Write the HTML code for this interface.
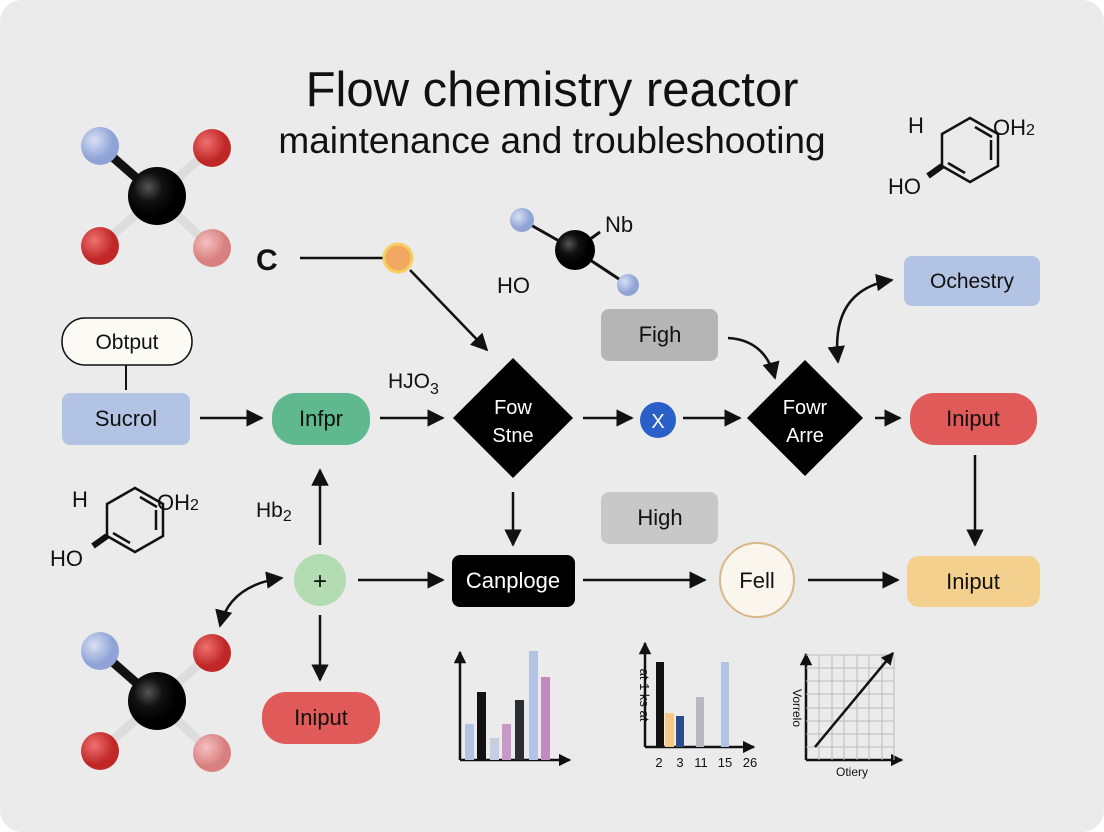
<!DOCTYPE html>
<html><head><style>
html,body{margin:0;padding:0;background:#fff;}
svg{display:block;font-family:"Liberation Sans",sans-serif;}
</style></head><body>
<svg width="1104" height="832" viewBox="0 0 1104 832">
<defs>
<marker id="a" viewBox="0 0 10 10" refX="9" refY="5" markerWidth="7" markerHeight="7" orient="auto-start-reverse"><path d="M0,0L10,5L0,10z" fill="#111"/></marker>
<marker id="s" viewBox="0 0 10 10" refX="9" refY="5" markerWidth="5" markerHeight="5" orient="auto-start-reverse"><path d="M0,0L10,5L0,10z" fill="#111"/></marker>
<radialGradient id="gk" cx="35%" cy="35%"><stop offset="0" stop-color="#555"/><stop offset="0.5" stop-color="#111"/><stop offset="1" stop-color="#000"/></radialGradient>
<radialGradient id="gb" cx="35%" cy="35%"><stop offset="0" stop-color="#d8e0f5"/><stop offset="1" stop-color="#8fa3d6"/></radialGradient>
<radialGradient id="gr" cx="35%" cy="35%"><stop offset="0" stop-color="#f07070"/><stop offset="1" stop-color="#c02828"/></radialGradient>
<radialGradient id="gp" cx="35%" cy="35%"><stop offset="0" stop-color="#f5c0c0"/><stop offset="1" stop-color="#d88080"/></radialGradient>
<g id="mol">
<line x1="-57" y1="-50" x2="0" y2="0" stroke="#111" stroke-width="9"/>
<line x1="55" y1="-48" x2="0" y2="0" stroke="#ddd" stroke-width="9"/>
<line x1="-57" y1="50" x2="0" y2="0" stroke="#ddd" stroke-width="9"/>
<line x1="55" y1="52" x2="0" y2="0" stroke="#ddd" stroke-width="9"/>
<circle cx="-57" cy="-50" r="19" fill="url(#gb)"/>
<circle cx="55" cy="-48" r="19" fill="url(#gr)"/>
<circle cx="-57" cy="50" r="19" fill="url(#gr)"/>
<circle cx="55" cy="52" r="19" fill="url(#gp)"/>
<circle cx="0" cy="0" r="29" fill="url(#gk)"/>
</g>
<g id="ben" fill="none" stroke="#111" stroke-width="2.5">
<polygon points="0,-32 28,-16 28,16 0,32 -28,16 -28,-16"/>
<line x1="5" y1="-23" x2="22" y2="-13"/><line x1="21" y1="-10" x2="21" y2="10"/><line x1="-22" y1="13" x2="-5" y2="23"/>
<line x1="-28" y1="16" x2="-42" y2="26" stroke-width="6"/>
</g>
</defs>
<rect x="0" y="0" width="1104" height="832" rx="22" fill="#ebebeb"/>
<text x="552" y="106" font-size="49" text-anchor="middle" fill="#111">Flow chemistry reactor</text>
<text x="552" y="153" font-size="37" text-anchor="middle" fill="#111">maintenance and troubleshooting</text>

<use href="#mol" x="157" y="196"/>
<use href="#mol" x="157" y="701"/>

<line x1="522" y1="220" x2="575" y2="250" stroke="#111" stroke-width="3"/>
<line x1="628" y1="285" x2="575" y2="250" stroke="#111" stroke-width="3"/>
<line x1="575" y1="250" x2="600" y2="232" stroke="#111" stroke-width="3"/>
<circle cx="522" cy="220" r="12" fill="url(#gb)"/>
<circle cx="628" cy="285" r="11" fill="url(#gb)"/>
<circle cx="575" cy="250" r="20" fill="url(#gk)"/>
<text x="605" y="232" font-size="22" fill="#111">Nb</text>
<text x="497" y="293" font-size="22" fill="#111">HO</text>

<use href="#ben" x="970" y="150"/>
<text x="908" y="133" font-size="22" fill="#111">H</text>
<text x="993" y="135" font-size="22" fill="#111">OH<tspan font-size="16">2</tspan></text>
<text x="888" y="194" font-size="22" fill="#111">HO</text>
<use href="#ben" x="135" y="520"/>
<text x="72" y="507" font-size="22" fill="#111">H</text>
<text x="157" y="510" font-size="22" fill="#111">OH<tspan font-size="16">2</tspan></text>
<text x="50" y="566" font-size="22" fill="#111">HO</text>

<text x="256" y="270" font-size="30" font-weight="bold" fill="#111">C</text>
<line x1="300" y1="258" x2="385" y2="258" stroke="#111" stroke-width="2.5"/>
<circle cx="398" cy="258" r="14" fill="#f2a860" stroke="#f5d060" stroke-width="3"/>
<line x1="410" y1="270" x2="487" y2="350" stroke="#111" stroke-width="2.5" marker-end="url(#a)"/>

<rect x="62" y="318" width="130" height="47" rx="23" fill="#fbfaf5" stroke="#111" stroke-width="1.5"/>
<text x="127" y="349" font-size="21" text-anchor="middle" fill="#111">Obtput</text>
<line x1="126" y1="365" x2="126" y2="390" stroke="#111" stroke-width="2"/>
<rect x="62" y="393" width="128" height="52" rx="8" fill="#b3c3e3"/>
<text x="126" y="426" font-size="22" text-anchor="middle" fill="#111">Sucrol</text>
<rect x="272" y="393" width="98" height="52" rx="24" fill="#5fb88e"/>
<text x="321" y="426" font-size="22" text-anchor="middle" fill="#111">Infpr</text>
<polygon points="513,358 573,418 513,478 453,418" fill="#000"/>
<text x="513" y="414" font-size="20" text-anchor="middle" fill="#fff">Fow</text>
<text x="513" y="442" font-size="20" text-anchor="middle" fill="#fff">Stne</text>
<circle cx="658" cy="420" r="18" fill="#2a5fc8"/>
<text x="658" y="428" font-size="20" text-anchor="middle" fill="#fff">X</text>
<polygon points="805,360 863,418 805,476 747,418" fill="#000"/>
<text x="805" y="414" font-size="20" text-anchor="middle" fill="#fff">Fowr</text>
<text x="805" y="442" font-size="20" text-anchor="middle" fill="#fff">Arre</text>
<rect x="910" y="393" width="127" height="52" rx="24" fill="#e05a5a"/>
<text x="973" y="426" font-size="22" text-anchor="middle" fill="#111">Iniput</text>
<rect x="601" y="309" width="117" height="52" rx="8" fill="#b5b5b5"/>
<text x="660" y="342" font-size="22" text-anchor="middle" fill="#111">Figh</text>
<rect x="601" y="492" width="117" height="52" rx="8" fill="#c8c8c8"/>
<text x="660" y="525" font-size="22" text-anchor="middle" fill="#111">High</text>
<rect x="904" y="256" width="136" height="50" rx="8" fill="#b3c3e3"/>
<text x="972" y="288" font-size="21" text-anchor="middle" fill="#111">Ochestry</text>
<rect x="452" y="555" width="123" height="52" rx="8" fill="#000"/>
<text x="513" y="588" font-size="22" text-anchor="middle" fill="#fff">Canploge</text>
<circle cx="757" cy="580" r="37" fill="#faf6ee" stroke="#d8b88a" stroke-width="2"/>
<text x="757" y="588" font-size="22" text-anchor="middle" fill="#111">Fell</text>
<rect x="907" y="556" width="133" height="51" rx="12" fill="#f3d08e"/>
<text x="973" y="589" font-size="22" text-anchor="middle" fill="#111">Iniput</text>
<circle cx="320" cy="580" r="26" fill="#b3dcb3"/>
<text x="320" y="589" font-size="24" text-anchor="middle" fill="#111">+</text>
<rect x="262" y="692" width="118" height="52" rx="24" fill="#e05a5a"/>
<text x="321" y="725" font-size="22" text-anchor="middle" fill="#111">Iniput</text>
<text x="388" y="388" font-size="21" fill="#111">HJO<tspan font-size="16" dy="6">3</tspan></text>
<text x="256" y="517" font-size="21" fill="#111">Hb<tspan font-size="16" dy="4">2</tspan></text>

<g stroke="#111" stroke-width="2.5" fill="none">
<line x1="200" y1="418" x2="262" y2="418" marker-end="url(#a)"/>
<line x1="380" y1="418" x2="443" y2="418" marker-end="url(#a)"/>
<line x1="583" y1="418" x2="632" y2="418" marker-end="url(#a)"/>
<line x1="683" y1="418" x2="740" y2="418" marker-end="url(#a)"/>
<line x1="875" y1="418" x2="900" y2="418" marker-end="url(#a)"/>
<line x1="975" y1="455" x2="975" y2="545" marker-end="url(#a)"/>
<line x1="513" y1="492" x2="513" y2="545" marker-end="url(#a)"/>
<line x1="320" y1="545" x2="320" y2="470" marker-end="url(#a)"/>
<line x1="320" y1="615" x2="320" y2="680" marker-end="url(#a)"/>
<line x1="358" y1="580" x2="443" y2="580" marker-end="url(#a)"/>
<line x1="583" y1="580" x2="705" y2="580" marker-end="url(#a)"/>
<line x1="808" y1="580" x2="898" y2="580" marker-end="url(#a)"/>
<path d="M728,338 Q765,340 775,378" marker-end="url(#a)"/>
<path d="M838,362 Q830,290 892,280" marker-start="url(#a)" marker-end="url(#a)"/>
<path d="M220,626 Q230,585 282,578" marker-start="url(#a)" marker-end="url(#a)"/>
</g>

<g fill="none" stroke="#111" stroke-width="2.5">
<line x1="460" y1="760" x2="460" y2="652" marker-end="url(#s)"/>
<line x1="460" y1="760" x2="570" y2="760" marker-end="url(#s)"/>
<line x1="645" y1="747" x2="645" y2="643" marker-end="url(#s)"/>
<line x1="645" y1="747" x2="754" y2="747" marker-end="url(#s)"/>
<line x1="806" y1="760" x2="806" y2="654" marker-end="url(#s)"/>
<line x1="806" y1="760" x2="902" y2="760" marker-end="url(#s)"/>
</g>
<rect x="465" y="724" width="9" height="36" fill="#b3c3e3"/>
<rect x="477" y="692" width="9" height="68" fill="#111"/>
<rect x="490" y="738" width="9" height="22" fill="#c8cde0"/>
<rect x="502" y="724" width="9" height="36" fill="#c898c8"/>
<rect x="515" y="700" width="9" height="60" fill="#2a2e33"/>
<rect x="529" y="651" width="9" height="109" fill="#b3c3e3"/>
<rect x="541" y="677" width="9" height="83" fill="#c08cc0"/>
<rect x="656" y="662" width="8" height="85" fill="#111"/>
<rect x="665" y="713" width="9" height="34" fill="#f3c888"/>
<rect x="676" y="716" width="8" height="31" fill="#2a4a8a"/>
<rect x="696" y="697" width="8" height="50" fill="#b8b8c0"/>
<rect x="721" y="662" width="8" height="85" fill="#b3c3e3"/>
<g font-size="13" fill="#111" text-anchor="middle">
<text x="659" y="767">2</text><text x="680" y="767">3</text><text x="701" y="767">11</text><text x="725" y="767">15</text><text x="750" y="767">26</text>
<text transform="translate(640,695) rotate(90)">at 1 ks at</text>
<text x="852" y="776" font-size="12">Otiery</text>
<text transform="translate(793,708) rotate(90)" font-size="12">Vorrelo</text>
</g>
<g stroke="#bbb" stroke-width="1">
<line x1="819" y1="655" x2="819" y2="760"/><line x1="832" y1="655" x2="832" y2="760"/><line x1="844" y1="655" x2="844" y2="760"/><line x1="857" y1="655" x2="857" y2="760"/><line x1="869" y1="655" x2="869" y2="760"/><line x1="882" y1="655" x2="882" y2="760"/><line x1="894" y1="655" x2="894" y2="760"/>
<line x1="806" y1="655" x2="894" y2="655"/><line x1="806" y1="668" x2="894" y2="668"/><line x1="806" y1="681" x2="894" y2="681"/><line x1="806" y1="694" x2="894" y2="694"/><line x1="806" y1="708" x2="894" y2="708"/><line x1="806" y1="721" x2="894" y2="721"/><line x1="806" y1="734" x2="894" y2="734"/><line x1="806" y1="747" x2="894" y2="747"/>
</g>
<line x1="815" y1="747" x2="893" y2="653" stroke="#111" stroke-width="2.5" marker-end="url(#s)"/>
</svg>
</body></html>
